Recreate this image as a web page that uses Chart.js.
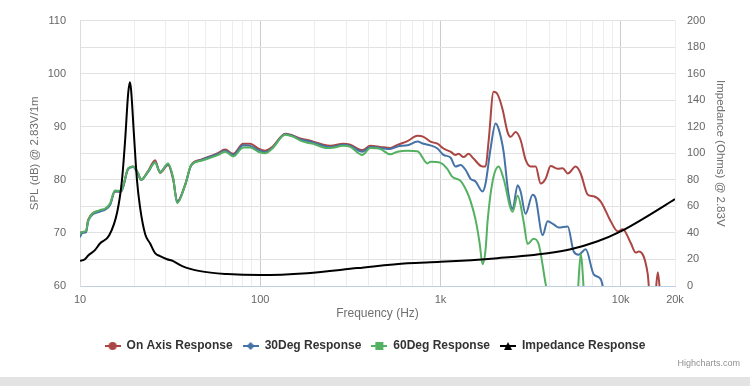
<!DOCTYPE html>
<html>
<head>
<meta charset="utf-8">
<script src="https://cdn.jsdelivr.net/npm/chart.js@4.4.1/dist/chart.umd.min.js"></script>
<style>
    html, body { margin: 0; padding: 0; background: #e3e3e3; }
    #wrap { width: 750px; height: 377px; background: #fff; position: relative; }
</style>
</head>
<body>
<div id="wrap"><canvas id="chart"></canvas></div>
<script>
// Frequency response data
const onAxisFreq = [10, 10.8, 11.1, 12.9, 13.8, 14.7, 15.6, 16.9, 18.5, 19.7, 21.0, 21.8, 23.9, 26.1, 27.8, 30.8, 32.9, 34.6, 38.3, 41.4, 47.0, 51.4, 57.7, 63.9, 70.8, 80.5, 88.0, 97.5, 106.6, 116.6, 137.6, 150.6, 166.8, 182.4, 197, 223.9, 244.9, 289, 316, 368.6, 408, 464, 527, 577, 656, 745, 805, 880, 962, 1039, 1136, 1212, 1259, 1343, 1431, 1525, 1711, 1778, 1848, 1970, 2074, 2209, 2355, 2448, 2610, 2783, 2965, 3162, 3373, 3594, 3831, 4084, 4467, 4764, 5081, 5623, 5995, 6561, 7079, 7743, 8799, 9620, 10260, 11365, 12115, 12589, 14125, 14600, 15500, 16070, 16700, 20000];
const onAxisSpl = [70.1, 70.2, 72.5, 74.2, 74.5, 75.4, 77.8, 77.8, 82.1, 82.5, 81.2, 80.0, 81.7, 83.7, 81.3, 82.8, 80.0, 75.9, 79.1, 82.8, 83.8, 84.3, 85.0, 85.7, 84.9, 86.8, 86.8, 85.9, 85.5, 86.2, 88.7, 88.4, 87.8, 87.5, 87.2, 86.6, 86.4, 86.8, 86.6, 85.6, 86.4, 86.2, 86.0, 86.6, 87.3, 88.3, 88.1, 87.2, 86.8, 85.9, 85.3, 84.7, 84.9, 84.3, 84.9, 84.0, 82.5, 82.5, 87.2, 96.6, 96.1, 93.3, 89.0, 88.1, 89.0, 87.5, 83.8, 82.5, 82.5, 79.3, 80.2, 82.6, 82.1, 82.2, 81.2, 82.5, 81.2, 77.2, 76.9, 75.9, 72.2, 70.3, 70.7, 68.1, 66.3, 66.5, 62.2, 57.0, 58.0, 62.6, 57.0, 50.0];

const deg30Freq = [10, 10.3, 10.8, 11.1, 12.9, 13.8, 14.7, 15.6, 16.9, 18.5, 19.7, 21.0, 21.8, 23.9, 26.1, 27.8, 30.8, 32.9, 34.6, 38.3, 41.4, 47.0, 51.4, 57.7, 63.9, 70.8, 80.5, 88.0, 97.5, 106.6, 116.6, 137.6, 150.6, 166.8, 182.4, 197, 223.9, 244.9, 289, 316, 368.6, 408, 464, 527, 577, 656, 745, 805, 880, 962, 1039, 1136, 1212, 1292, 1377, 1468, 1565, 1711, 1778, 1896, 2021, 2101, 2239, 2387, 2512, 2679, 2783, 2965, 3244, 3373, 3687, 3928, 4245, 4528, 5081, 5484, 5843, 6394, 7079, 7743, 7943, 8300];
const deg30Spl = [69.2, 70.0, 70.1, 72.2, 74.0, 74.4, 75.3, 77.8, 77.8, 82.0, 82.4, 81.1, 80.0, 81.5, 83.3, 81.5, 82.9, 80.2, 75.8, 79.0, 82.7, 83.7, 84.2, 84.8, 85.5, 84.7, 86.5, 86.4, 85.6, 85.2, 86.0, 88.6, 88.3, 87.6, 87.3, 87.0, 86.4, 86.2, 86.6, 86.4, 85.3, 86.2, 86.0, 85.8, 86.3, 86.5, 87.2, 86.8, 86.5, 85.9, 84.7, 84.2, 82.5, 82.8, 81.9, 80.2, 79.7, 77.8, 79.3, 85.9, 90.6, 89.6, 85.3, 77.2, 74.5, 79.0, 77.8, 73.6, 77.2, 76.5, 69.6, 72.2, 71.6, 71.0, 71.2, 66.5, 65.9, 66.9, 62.2, 61.3, 60.0, 57.0];

const deg60Freq = [10, 10.3, 10.8, 11.1, 12.9, 13.8, 14.7, 15.6, 16.9, 18.5, 19.7, 21.0, 21.8, 23.9, 26.1, 27.8, 30.8, 32.9, 34.6, 38.3, 41.4, 47.0, 51.4, 57.7, 63.9, 70.8, 80.5, 88.0, 97.5, 106.6, 116.6, 137.6, 150.6, 166.8, 182.4, 197, 223.9, 244.9, 289, 316, 368.6, 408, 464, 527, 577, 656, 745, 847, 880, 1000, 1093, 1160, 1292, 1400, 1468, 1565, 1650, 1711, 1780, 1825, 1945, 2101, 2239, 2512, 2679, 2890, 3043, 3286, 3503, 3831, 4000, 5700, 5995, 6300];
const deg60Spl = [69.8, 70.2, 70.4, 72.3, 74.3, 74.6, 75.6, 78.0, 77.9, 82.2, 82.5, 81.3, 80.0, 81.6, 83.2, 81.4, 83.1, 80.3, 75.6, 79.0, 82.8, 83.6, 84.0, 84.6, 85.3, 84.4, 86.1, 86.1, 85.3, 85.0, 85.9, 88.5, 88.2, 87.4, 87.0, 86.8, 86.1, 86.0, 86.4, 86.2, 84.7, 86.0, 85.8, 84.8, 85.3, 85.5, 85.4, 83.1, 83.4, 83.2, 82.0, 80.6, 79.8, 77.8, 76.0, 72.5, 68.0, 64.1, 67.0, 72.2, 79.7, 82.5, 80.2, 74.0, 77.0, 72.2, 67.9, 68.9, 67.9, 60.4, 57.0, 57.0, 66.0, 57.0];

const impedanceFreq = [10, 10.6, 11.1, 12.1, 12.9, 14.5, 16.1, 17.1, 17.8, 18.5, 18.9, 19.2, 19.9, 20.7, 21.5, 23.0, 24.5, 26.1, 27.8, 30.4, 32.9, 36.9, 46.4, 65.6, 100, 182, 346, 656, 1000, 2074, 3928, 5275, 7447, 10000, 13420, 20000];
const impedanceOhm = [19.0, 20.0, 23.0, 27.0, 32.0, 38.0, 56.0, 80.0, 110.0, 145.0, 153.5, 148.0, 115.0, 80.0, 60.0, 39.0, 32.0, 24.7, 22.5, 20.2, 18.7, 15.0, 11.2, 9.0, 8.2, 9.7, 13.5, 17.2, 18.2, 21.0, 24.7, 27.7, 33.7, 41.2, 51.0, 65.5];

const xTickValues = [10, 20, 30, 40, 50, 60, 70, 80, 90, 100, 200, 300, 400, 500, 600, 700, 800, 900,
    1000, 2000, 3000, 4000, 5000, 6000, 7000, 8000, 9000, 10000, 20000];
const xTickLabels = { 10: '10', 100: '100', 1000: '1k', 10000: '10k', 20000: '20k' };

function toPoints(xs, ys) {
    return xs.map((x, i) => ({ x: x, y: ys[i] }));
}

// legend marker: short line with a symbol in the middle
function makeMarker(color, shape) {
    const c = document.createElement('canvas');
    c.width = 16;
    c.height = 10;
    const g = c.getContext('2d');
    g.strokeStyle = color;
    g.fillStyle = color;
    g.lineWidth = 2;
    g.beginPath();
    g.moveTo(0, 5);
    g.lineTo(16, 5);
    g.stroke();
    g.beginPath();
    if (shape === 'circle') {
        g.arc(8, 5, 4, 0, Math.PI * 2);
    } else if (shape === 'diamond') {
        g.moveTo(8, 1); g.lineTo(12, 5); g.lineTo(8, 9); g.lineTo(4, 5);
    } else if (shape === 'square') {
        g.rect(4, 1, 8, 8);
    } else {
        g.moveTo(8, 1); g.lineTo(12, 9); g.lineTo(4, 9);
    }
    g.closePath();
    g.fill();
    return c;
}

const markers = [
    makeMarker('#AA4643', 'circle'),
    makeMarker('#4572A7', 'diamond'),
    makeMarker('#55B162', 'square'),
    makeMarker('#000000', 'triangle')
];

const creditPlugin = {
    id: 'credit',
    afterDraw(chart) {
        const ctx = chart.ctx;
        ctx.save();
        ctx.font = '9px "Liberation Sans", Arial, sans-serif';
        ctx.fillStyle = '#909090';
        ctx.textAlign = 'right';
        ctx.textBaseline = 'middle';
        ctx.fillText('Highcharts.com', 740, 364);
        ctx.restore();
    }
};

Chart.defaults.font.family = '"Liberation Sans", Arial, sans-serif';
Chart.defaults.color = '#666666';

const lineDefaults = {
    borderWidth: 2,
    pointRadius: 0,
    pointHoverRadius: 0,
    cubicInterpolationMode: 'monotone',
    fill: false
};

new Chart(document.getElementById('chart'), {
    type: 'line',
    data: {
        datasets: [
            Object.assign({ label: 'On Axis Response', data: toPoints(onAxisFreq, onAxisSpl), borderColor: '#AA4643', yAxisID: 'y', order: 3 }, lineDefaults),
            Object.assign({ label: '30Deg Response', data: toPoints(deg30Freq, deg30Spl), borderColor: '#4572A7', yAxisID: 'y', order: 2 }, lineDefaults),
            Object.assign({ label: '60Deg Response', data: toPoints(deg60Freq, deg60Spl), borderColor: '#55B162', yAxisID: 'y', order: 1 }, lineDefaults),
            Object.assign({ label: 'Impedance Response', data: toPoints(impedanceFreq, impedanceOhm), borderColor: '#000000', yAxisID: 'y1', order: 0 }, lineDefaults)
        ]
    },
    options: {
        responsive: true,
        maintainAspectRatio: false,
        animation: false,
        layout: { padding: { top: 14, left: 0, right: 0, bottom: 15 } },
        plugins: {
            tooltip: { enabled: false },
            legend: {
                position: 'bottom',
                labels: {
                    usePointStyle: true,
                    pointStyleWidth: 16,
                    padding: 10,
                    color: '#333333',
                    font: { size: 12, weight: 'bold' },
                    generateLabels: function(chart) {
                        return chart.data.datasets.map((ds, i) => ({
                            text: ds.label,
                            fillStyle: ds.borderColor,
                            strokeStyle: ds.borderColor,
                            lineWidth: 0,
                            pointStyle: markers[i],
                            fontColor: '#333333',
                            hidden: false,
                            datasetIndex: i
                        }));
                    }
                }
            }
        },
        scales: {
            x: {
                type: 'logarithmic',
                min: 10,
                max: 20000,
                afterBuildTicks: function(scale) {
                    scale.ticks = xTickValues.map(v => ({ value: v }));
                },
                afterFit: function(scale) {
                    scale.height = 44;
                },
                ticks: {
                    autoSkip: false,
                    maxRotation: 0,
                    padding: 7,
                    font: { size: 11 },
                    callback: function(value) {
                        return xTickLabels[value] || '';
                    }
                },
                grid: {
                    drawTicks: false,
                    color: function(ctx) {
                        const v = ctx.tick && ctx.tick.value;
                        if (v === 100 || v === 1000 || v === 10000) return '#cccccc';
                        return '#ededed';
                    }
                },
                border: { color: '#C0D0E0' },
                title: {
                    display: true,
                    text: 'Frequency (Hz)',
                    color: '#707070',
                    font: { size: 12 },
                    padding: { top: 0, bottom: 9 }
                }
            },
            y: {
                position: 'left',
                min: 60,
                max: 110,
                afterFit: function(scale) {
                    scale.width = 80;
                },
                ticks: {
                    stepSize: 5,
                    padding: 14,
                    font: { size: 11 },
                    callback: function(value) {
                        return value % 10 === 0 ? value : '';
                    }
                },
                grid: { drawTicks: false, color: '#e2e2e2' },
                border: { color: '#dddddd' },
                title: {
                    display: true,
                    text: 'SPL (dB) @ 2.83V/1m',
                    color: '#707070',
                    font: { size: 11.5 },
                    padding: { top: 28, bottom: 0 }
                }
            },
            y1: {
                position: 'right',
                min: 0,
                max: 200,
                afterFit: function(scale) {
                    scale.width = 75;
                },
                ticks: {
                    stepSize: 20,
                    padding: 4,
                    font: { size: 11 }
                },
                grid: { display: false },
                border: { display: false },
                title: {
                    display: true,
                    text: 'Impedance (Ohms) @ 2.83V',
                    color: '#707070',
                    font: { size: 11.5 },
                    padding: { top: 23, bottom: 0 }
                }
            }
        }
    },
    plugins: [creditPlugin]
});
</script>
</body>
</html>
